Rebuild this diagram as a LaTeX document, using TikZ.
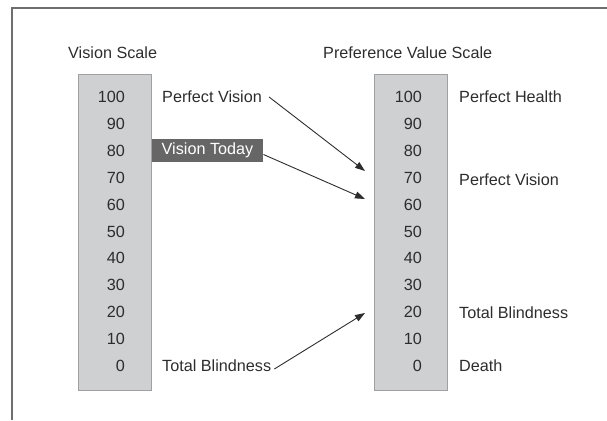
\documentclass[tikz,border=0pt]{standalone}
\usepackage{fontspec}
\setmainfont{Liberation Sans}
\usepackage{xcolor}
\usetikzlibrary{arrows.meta, positioning}
\definecolor{scalegray}{RGB}{207,208,210}
\definecolor{scaleedge}{RGB}{160,160,162}
\definecolor{todaygray}{RGB}{102,102,102}
\definecolor{inkgray}{RGB}{45,45,45}
\definecolor{framegray}{RGB}{110,110,110}

\begin{document}
\begin{tikzpicture}[
    x=1pt, y=1pt,
    bar/.style={rectangle, draw=scaleedge, fill=scalegray, line width=0.8pt, minimum width=73pt, minimum height=316pt, anchor=north west, inner sep=0pt},
    num/.style={anchor=east, inner sep=0pt, text=inkgray, font=\fontsize{16.2}{18}\selectfont},
    lbl/.style={anchor=west, inner sep=0pt, text=inkgray, font=\fontsize{16.2}{18}\selectfont},
    arrow/.style={-{Triangle[length=10pt, width=7pt]}, line width=0.9pt, draw=inkgray}
]
\useasboundingbox (0,0) rectangle (607,420);
\draw[framegray, line width=1.5pt] (12,0) -- (12,412) -- (607,412);

% the two scales
\node[lbl] (vtitle) at (68,367) {Vision Scale};
\node[lbl] (ptitle) at (323,367) {Preference Value Scale};
\node[bar] (vbar) at (78,346) {};
\node[bar] (pbar) at (374,346) {};
\foreach \v in {0,10,...,100} {
    \node[num] (v\v) at (125,{54+2.69*\v}) {\v};
    \node[num] (p\v) at (422,{54+2.69*\v}) {\v};
}

% labels next to the scales
\node[lbl] (pvl) at (162,323) {Perfect Vision};
\node[anchor=west, fill=todaygray, text=white, minimum height=23pt, inner xsep=10pt, inner ysep=0pt,
      font=\fontsize{16.2}{18}\selectfont] (today) at (151.5,269.5) {Vision Today};
\node[lbl] (tbl) at (162,54) {Total Blindness};
\node[lbl] (phr) at (459,323) {Perfect Health};
\node[lbl] (pvr) at (459,240) {Perfect Vision};
\node[lbl] (tbr) at (459,107) {Total Blindness};
\node[lbl] (dr) at (459,54) {Death};

\coordinate (pvtip) at (365,249);
\coordinate (todaytip) at (365,221);
\coordinate (tbtip) at (365,107);

\draw[arrow] ([xshift=7pt]pvl.east) -- (pvtip);
\draw[arrow] ([yshift=-4pt]today.east) -- (todaytip);
\draw[arrow] ([xshift=3pt, yshift=-3pt]tbl.east) -- (tbtip);
\end{tikzpicture}
\end{document}
